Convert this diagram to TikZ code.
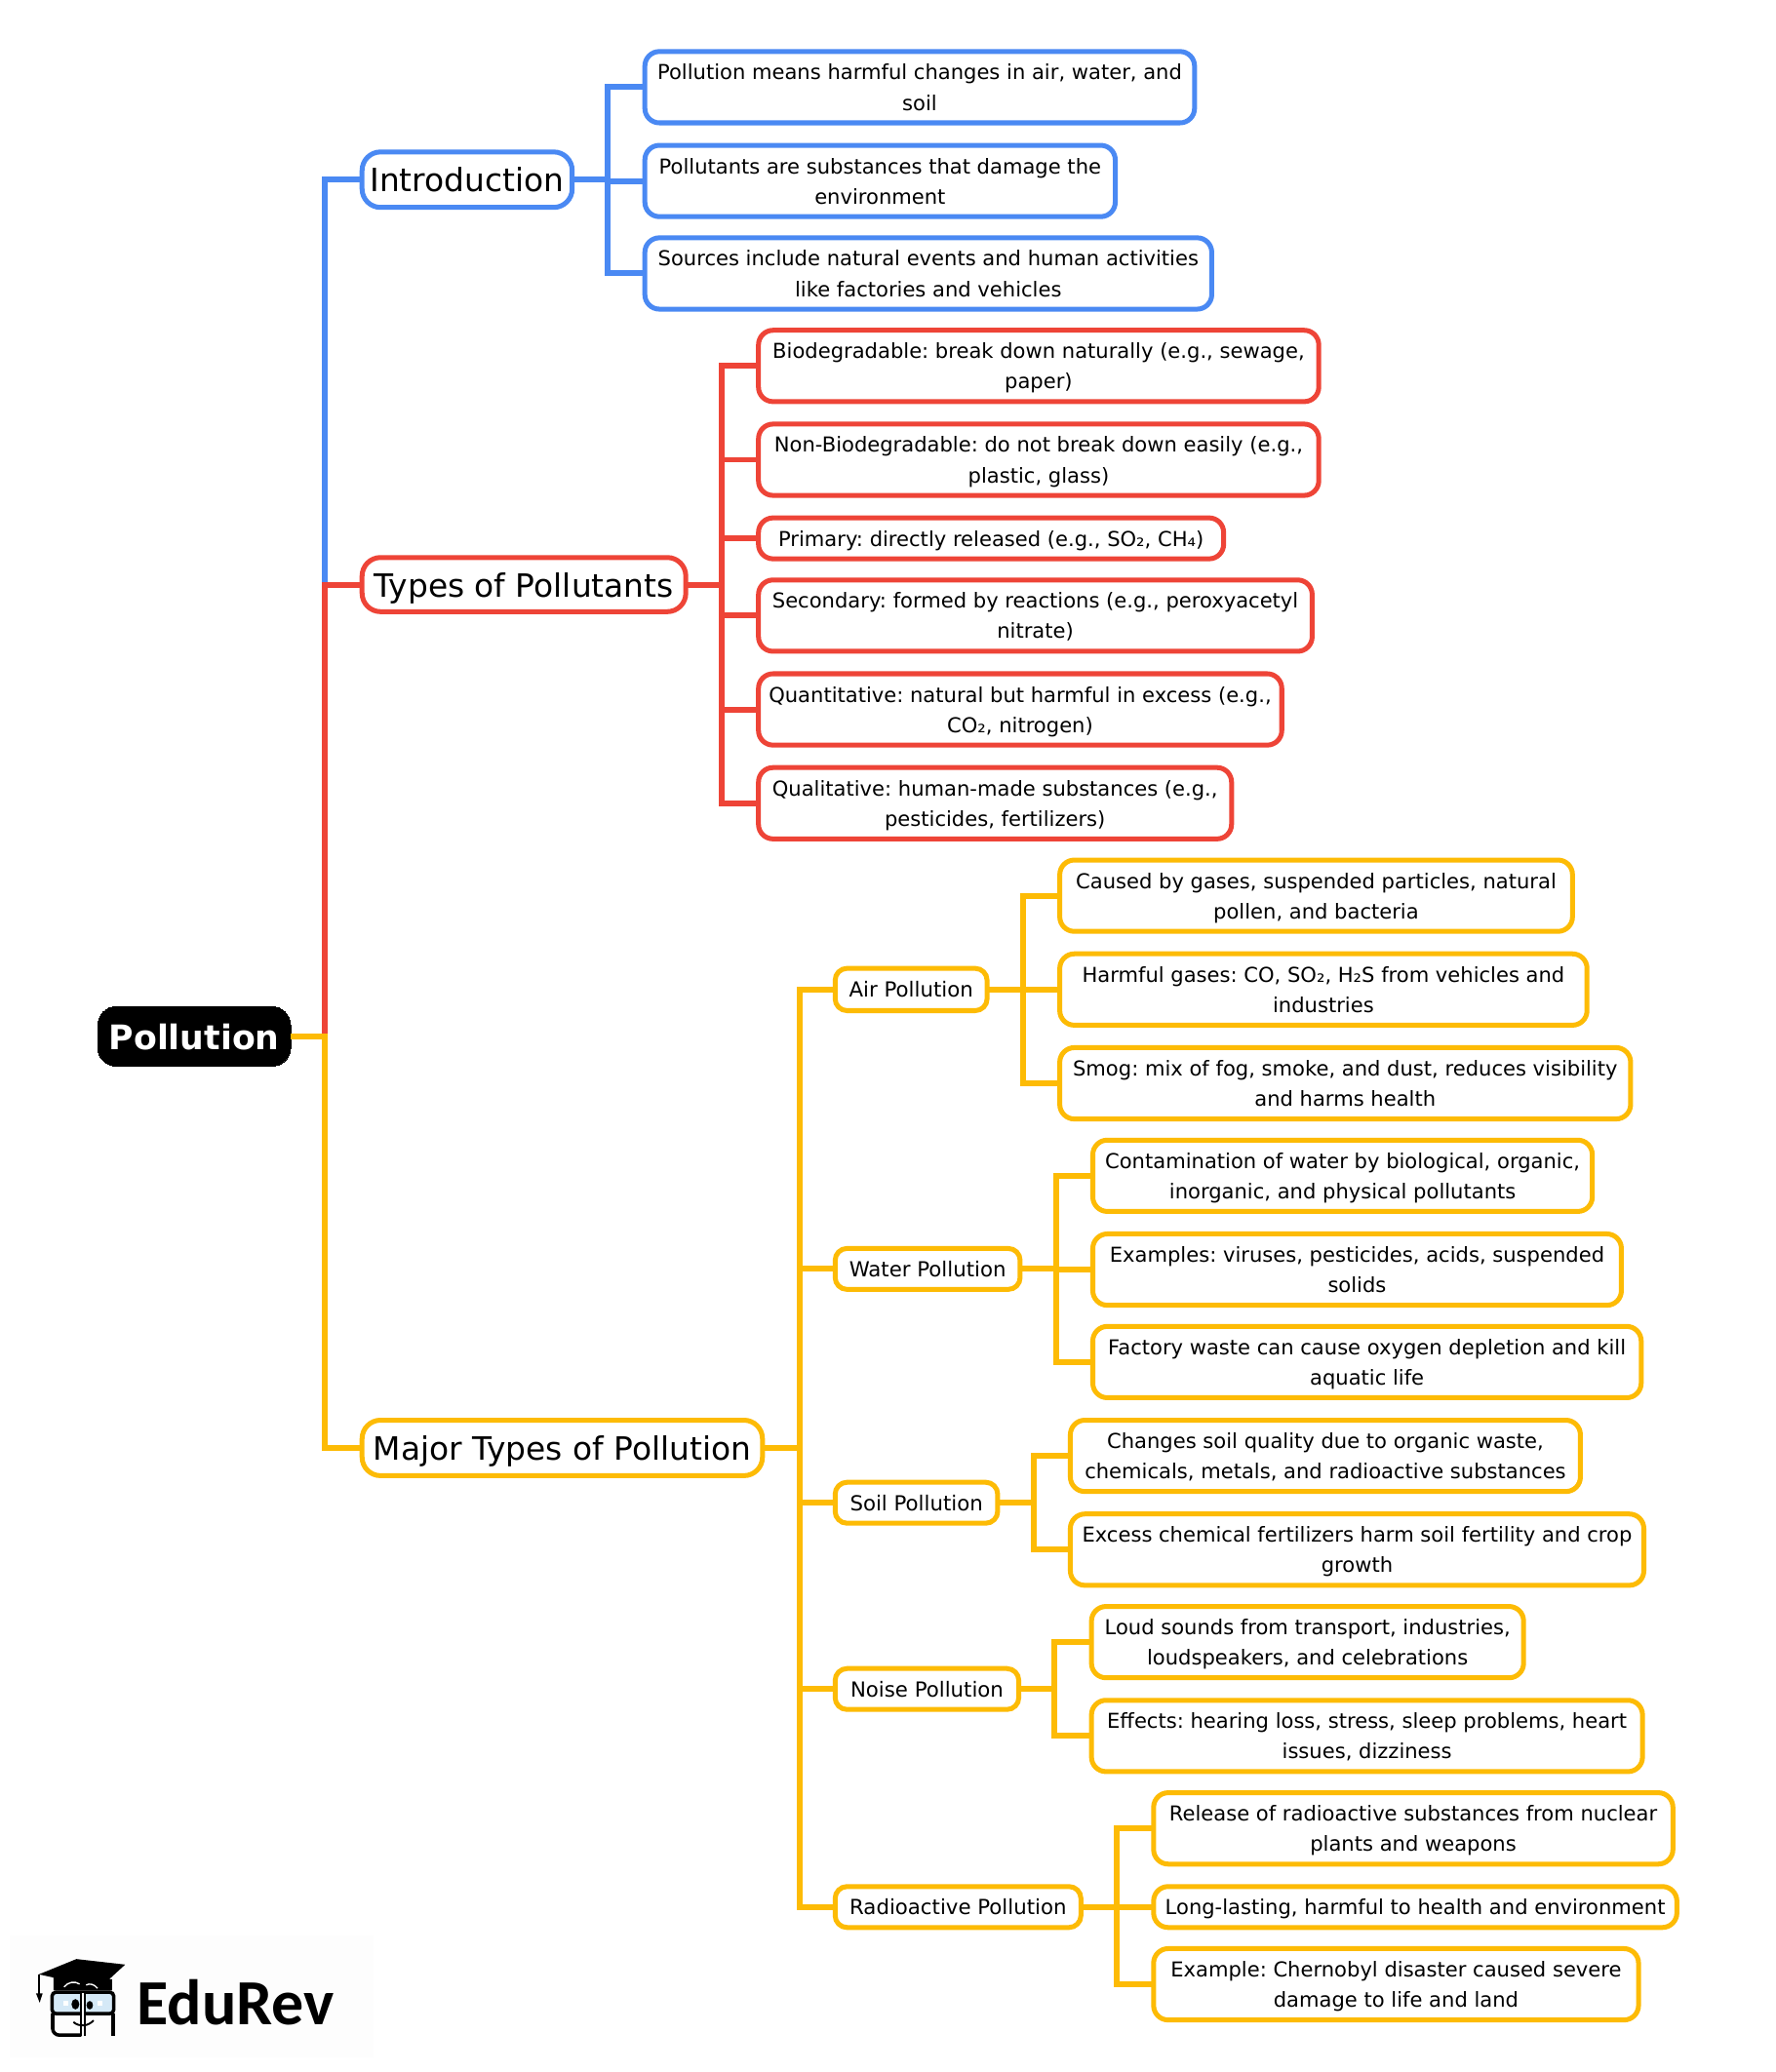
\documentclass[tikz,border=0pt]{standalone}
\usepackage{fontspec}
\setmainfont{DejaVu Sans}
\newfontfamily\logofont{Carlito}
\definecolor{cblue}{HTML}{4A89F3}
\definecolor{cred}{HTML}{EE4437}
\definecolor{cyel}{HTML}{FDBB05}
\definecolor{glass}{HTML}{D5E9F7}
\tikzset{
  boxbase/.style={draw,line width=3.7pt,rounded corners=11pt,fill=white,inner sep=0pt,outer sep=0pt,align=center,text=black},
  leafbox/.style={boxbase,font=\fontsize{15.55}{23}\selectfont},
  midbox/.style={boxbase,font=\fontsize{15.7}{23}\selectfont,rounded corners=9pt},
  mainbox/.style={boxbase,font=\fontsize{24.25}{30}\selectfont,rounded corners=14pt},
  rootbox/.style={draw=black,fill=black,text=white,line width=0pt,rounded corners=14pt,inner sep=0pt,outer sep=0pt,font=\fontsize{25.6}{30}\bfseries\selectfont},
  link/.style={line width=4.4pt,line join=miter,line cap=butt},
  logoline/.style={draw=black,line width=2.6pt}
}
\newcommand{\st}{\rule[-0.34em]{0pt}{1.44em}}
\newcommand{\bx}[7]{\node[#6,minimum width={(#4-#2)*1pt},minimum height={(#5-#3)*1pt}] (#1) at ({(#2+#4)/2},{(#3+#5)/2}) {\frenchspacing\st #7\st};}
% \branch{colour}{bus coordinate}{parent}{children}
\newcommand{\branch}[4]{\foreach \c in {#4}{\draw[link,#1] (#3.east) -- (#2 |- #3.east) -- (#2 |- \c.west) -- (\c.west);}}
\begin{document}
\begin{tikzpicture}[x=1pt,y=-1pt]
\useasboundingbox (0,0) rectangle (1344,1568.4);
\fill[white] (0,0) rectangle (1344,1568.4);
\coordinate (tx) at (246,0);
\coordinate (bblue) at (460,0);
\coordinate (bred) at (546,0);
\coordinate (byel) at (605,0);
\coordinate (bair) at (774,0);
\coordinate (bwater) at (799,0);
\coordinate (bsoil) at (782,0);
\coordinate (bnoise) at (798,0);
\coordinate (bradio) at (845,0);
% nodes first, so that the connectors can name them
\bx{root}{74}{762}{220}{807}{rootbox}{Pollution}
\bx{intro}{274}{115}{433}{157}{mainbox,draw=cblue}{Introduction}
\bx{types}{274}{422}{519}{463}{mainbox,draw=cred}{Types of Pollutants}
\bx{major}{274}{1075}{577}{1117}{mainbox,draw=cyel}{Major Types of Pollution}
\bx{a1}{488}{39}{904}{93}{leafbox,draw=cblue}{Pollution means harmful changes in air, water, and\\soil}
\bx{a2}{488}{110}{844}{164}{leafbox,draw=cblue}{Pollutants are substances that damage the\\environment}
\bx{a3}{488}{180}{917}{234}{leafbox,draw=cblue}{Sources include natural events and human activities\\like factories and vehicles}
\bx{b1}{574}{250}{998}{304}{leafbox,draw=cred}{Biodegradable: break down naturally (e.g., sewage,\\paper)}
\bx{b2}{574}{321}{998}{375}{leafbox,draw=cred}{Non-Biodegradable: do not break down easily (e.g.,\\plastic, glass)}
\bx{b3}{574}{392}{926}{423}{leafbox,draw=cred}{Primary: directly released (e.g., SO₂, CH₄)}
\bx{b4}{574}{439}{993}{493}{leafbox,draw=cred}{Secondary: formed by reactions (e.g., peroxyacetyl\\nitrate)}
\bx{b5}{574}{510}{970}{564}{leafbox,draw=cred}{Quantitative: natural but harmful in excess (e.g.,\\CO₂, nitrogen)}
\bx{b6}{574}{581}{932}{635}{leafbox,draw=cred}{Qualitative: human-made substances (e.g.,\\pesticides, fertilizers)}
\bx{air}{632}{733}{747}{765}{midbox,draw=cyel}{Air Pollution}
\bx{water}{632}{945}{772}{976}{midbox,draw=cyel}{Water Pollution}
\bx{soil}{632}{1122}{755}{1153}{midbox,draw=cyel}{Soil Pollution}
\bx{noise}{632}{1263}{771}{1294}{midbox,draw=cyel}{Noise Pollution}
\bx{radio}{632}{1428}{818}{1459}{midbox,draw=cyel}{Radioactive Pollution}
\bx{c1}{802}{651}{1190}{705}{leafbox,draw=cyel}{Caused by gases, suspended particles, natural\\pollen, and bacteria}
\bx{c2}{802}{722}{1201}{776}{leafbox,draw=cyel}{Harmful gases: CO, SO₂, H₂S from vehicles and\\industries}
\bx{c3}{802}{793}{1234}{847}{leafbox,draw=cyel}{Smog: mix of fog, smoke, and dust, reduces visibility\\and harms health}
\bx{d1}{827}{863}{1205}{917}{leafbox,draw=cyel}{Contamination of water by biological, organic,\\inorganic, and physical pollutants}
\bx{d2}{827}{934}{1227}{988}{leafbox,draw=cyel}{Examples: viruses, pesticides, acids, suspended\\solids}
\bx{d3}{827}{1004}{1242}{1058}{leafbox,draw=cyel}{Factory waste can cause oxygen depletion and kill\\aquatic life}
\bx{e1}{810}{1075}{1196}{1129}{leafbox,draw=cyel}{Changes soil quality due to organic waste,\\chemicals, metals, and radioactive substances}
\bx{e2}{810}{1146}{1244}{1200}{leafbox,draw=cyel}{Excess chemical fertilizers harm soil fertility and crop\\growth}
\bx{f1}{826}{1216}{1153}{1270}{leafbox,draw=cyel}{Loud sounds from transport, industries,\\loudspeakers, and celebrations}
\bx{f2}{826}{1287}{1243}{1341}{leafbox,draw=cyel}{Effects: hearing loss, stress, sleep problems, heart\\issues, dizziness}
\bx{g1}{873}{1357}{1266}{1411}{leafbox,draw=cyel}{Release of radioactive substances from nuclear\\plants and weapons}
\bx{g2}{873}{1428}{1269}{1459}{leafbox,draw=cyel}{Long-lasting, harmful to health and environment}
\bx{g3}{873}{1475}{1240}{1529}{leafbox,draw=cyel}{Example: Chernobyl disaster caused severe\\damage to life and land}
% connectors
\branch{cblue}{tx}{root}{intro}
\branch{cred}{tx}{root}{types}
\branch{cyel}{tx}{root}{major}
\branch{cblue}{bblue}{intro}{a1,a2,a3}
\branch{cred}{bred}{types}{b1,b2,b3,b4,b5,b6}
\branch{cyel}{byel}{major}{air,water,soil,noise,radio}
\branch{cyel}{bair}{air}{c1,c2,c3}
\branch{cyel}{bwater}{water}{d1,d2,d3}
\branch{cyel}{bsoil}{soil}{e1,e2}
\branch{cyel}{bnoise}{noise}{f1,f2}
\branch{cyel}{bradio}{radio}{g1,g2,g3}
% logo, coordinates in 3x pixels of the reference crop
\begin{scope}[shift={(0,1439.1)},x=0.246pt,y=-0.246pt]
\fill[black!0.6] (30,105) rectangle (1150,480);
\fill[black] (120,225) -- (235,178) -- (385,195) -- (312,262) -- (265,245) -- (345,240) -- (345,275) -- (165,275) -- (165,235) -- cycle;
\draw[black,line width=1.5pt] (120,225) -- (120,285);
\fill[black] (111,284) -- (131,284) -- (122,312) -- cycle;
\draw[logoline,fill=glass,rounded corners=3pt] (160,280) rectangle (350,346);
\draw[logoline,rounded corners=5pt] (162,346) -- (162,412) -- (250,412);
\draw[logoline,rounded corners=5pt] (348,346) -- (348,414);
\draw[black,line width=1.5pt] (250,280) -- (250,416);
\draw[black,line width=1.5pt] (261,280) -- (261,416);
\fill[white] (252,282) rectangle (259,414);
\fill[black] (232,317) ellipse (12 and 16);
\fill[black] (276,320) ellipse (10 and 13);
\fill[white] (196,308) rectangle (210,321);
\fill[white] (301,308) rectangle (316,321);
\draw[black,line width=1.4pt] (226,372) .. controls (245,388) and (270,385) .. (288,367);
\draw[white,line width=1pt] (197,264) .. controls (210,248) and (230,245) .. (245,255);
\draw[white,line width=1pt] (265,258) .. controls (275,252) and (290,255) .. (300,268);
\node[inner sep=0pt,outer sep=0pt,anchor=base west,font=\logofont\bfseries\fontsize{48.7}{50}\selectfont] (logotext) at (422,380) {EduRev};
\end{scope}
\end{tikzpicture}
\end{document}
